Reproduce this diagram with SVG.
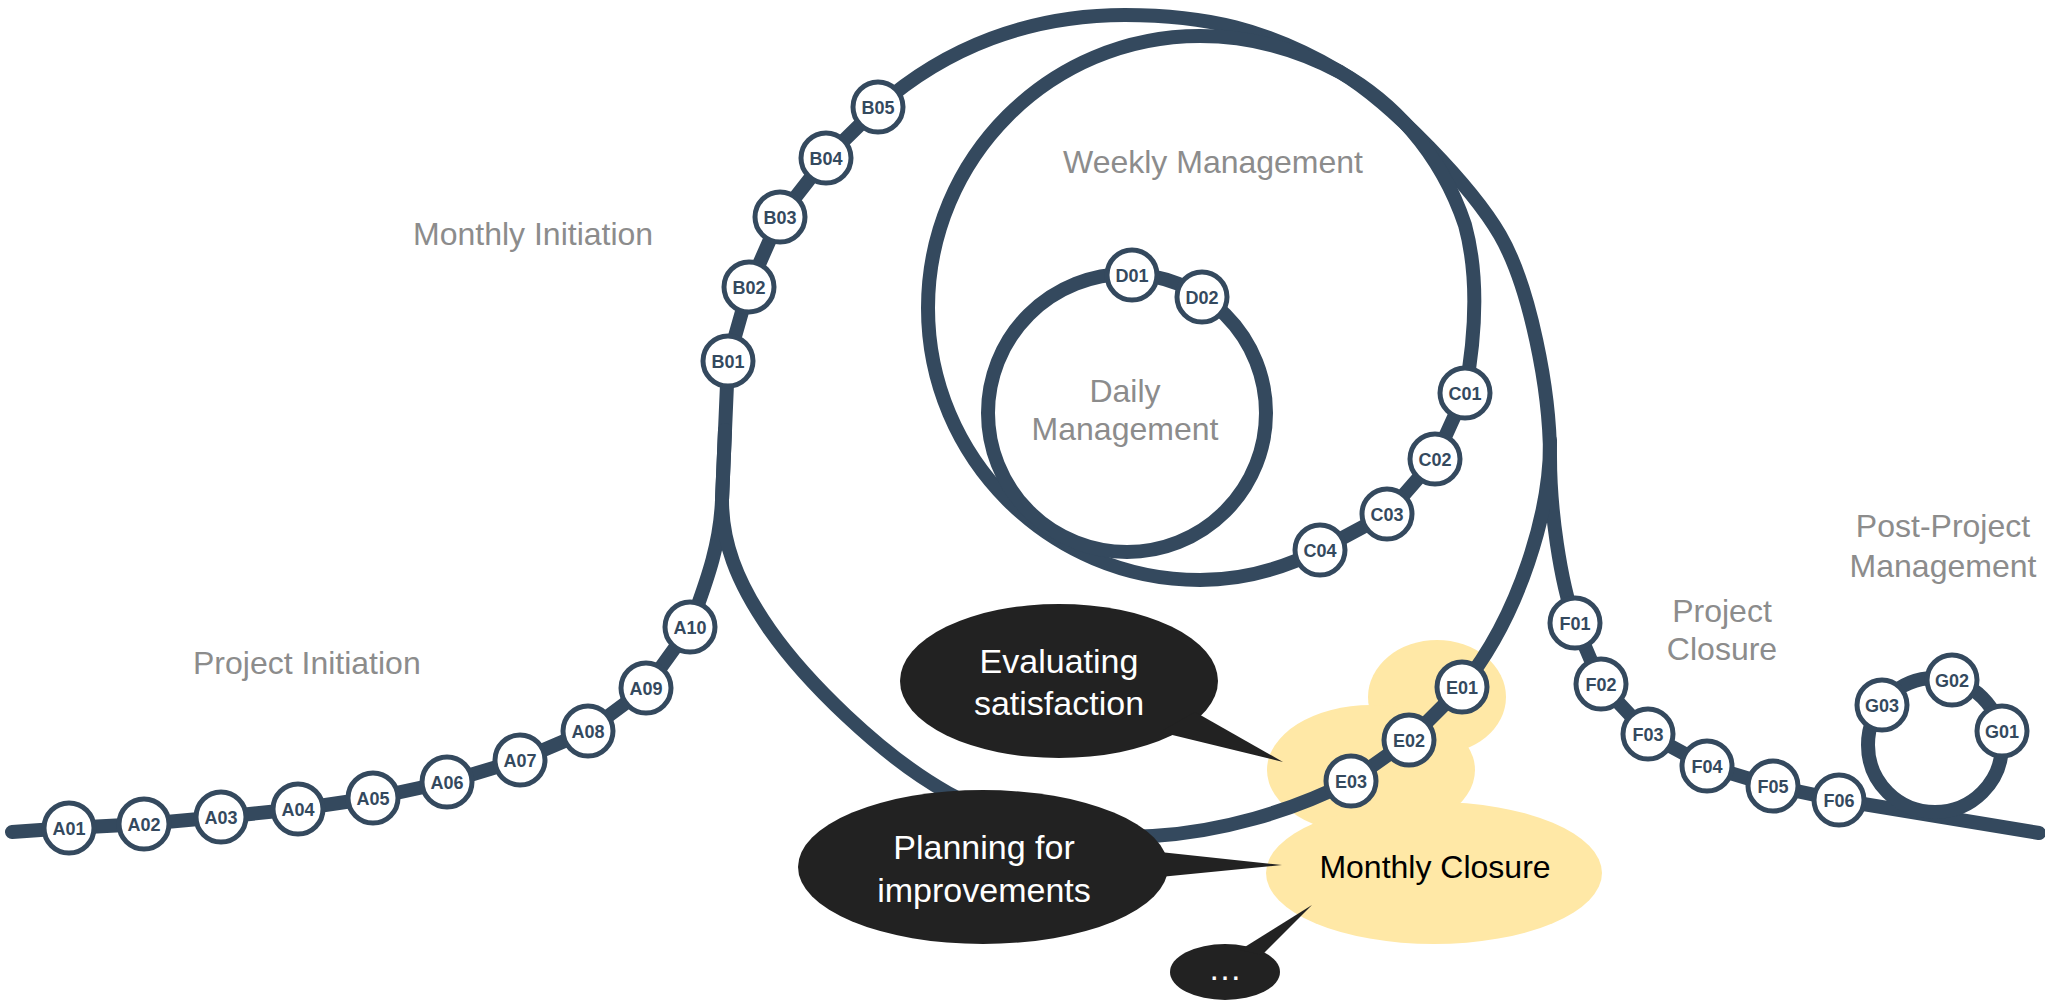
<svg xmlns="http://www.w3.org/2000/svg" width="2045" height="1001" viewBox="0 0 2045 1001">
<style>
.line{fill:none;stroke:#34495e;stroke-width:14;stroke-linecap:round;stroke-linejoin:round}
.st circle{fill:#fff;stroke:#34495e;stroke-width:5}
.st text{font-family:'Liberation Sans',Arial,sans-serif;font-weight:bold;font-size:18px;fill:#34495e;text-anchor:middle}
.lbl{font-family:'Liberation Sans',Arial,sans-serif;font-size:32px;fill:#8c8c8c}
.mid{text-anchor:middle}
.bub{fill:#222}
.bubt{font-family:'Liberation Sans',Arial,sans-serif;font-size:34px;fill:#fff;text-anchor:middle}
.cloud{fill:#ffe8a6}
</style>
<rect width="2045" height="1001" fill="#fff"/>
<g id="monthly-closure">
<ellipse class="cloud" cx="1437" cy="697" rx="69" ry="57"/>
<ellipse class="cloud" cx="1371" cy="770" rx="104" ry="65"/>
<ellipse class="cloud" cx="1434" cy="873" rx="168" ry="71"/>
<text x="1435" y="878" font-family="'Liberation Sans',Arial,sans-serif" font-size="32" fill="#000" text-anchor="middle">Monthly Closure</text>
</g>
<g id="connectors">
<path class="line" d="M12,832 L69,828 L144,824 L221,817 L298,809 L373,798 L447,782 L520,760 L588,731 L646,688 L690,627 C703,590 720,550 722,500 L728,361 L749,287 L780,217 L826,158 L878,107 C946,47 1030,15 1125,15 C1205,15 1267,29 1340,72 C1392,103 1472,187 1500,235 C1530,287 1550,390 1550,457 C1550,510 1560,580 1575,623 L1601,684 L1648,734 L1707,766 L1773,786 L1839,800 L2039,833"/>
<path class="line" d="M1550,440 C1551,510 1520,615 1462,687 L1409,740 L1351,781 C1290,812 1220,832 1153,836 C1080,840 1010,828 948,793 C880,755 805,680 770,630 C735,580 722,540 722,500 L725,430"/>
<path class="line" d="M1340,72 C1297,49 1249,36 1200,36 C1050,36 928,158 928,308 C928,458 1050,580 1200,580 C1242,580 1282,569 1320,550 L1387,514 L1435,459 L1465,393 C1474,345 1480,280 1465,225 C1440,150 1390,100 1340,72"/>
<circle class="line" cx="1127" cy="413" r="139"/>
<circle class="line" cx="1935" cy="745" r="67"/>
</g>
<g id="labels">
<text class="lbl" x="413" y="245">Monthly Initiation</text>
<text class="lbl" x="193" y="674">Project Initiation</text>
<text class="lbl" x="1063" y="173">Weekly Management</text>
<text class="lbl mid" x="1125" y="402">Daily</text>
<text class="lbl mid" x="1125" y="440">Management</text>
<text class="lbl mid" x="1722" y="622">Project</text>
<text class="lbl mid" x="1722" y="660">Closure</text>
<text class="lbl mid" x="1943" y="537">Post-Project</text>
<text class="lbl mid" x="1943" y="577">Management</text>
</g>
<g id="A01" class="st"><circle cx="69" cy="828" r="25"/><text x="69" y="834.5">A01</text></g>
<g id="A02" class="st"><circle cx="144" cy="824" r="25"/><text x="144" y="830.5">A02</text></g>
<g id="A03" class="st"><circle cx="221" cy="817" r="25"/><text x="221" y="823.5">A03</text></g>
<g id="A04" class="st"><circle cx="298" cy="809" r="25"/><text x="298" y="815.5">A04</text></g>
<g id="A05" class="st"><circle cx="373" cy="798" r="25"/><text x="373" y="804.5">A05</text></g>
<g id="A06" class="st"><circle cx="447" cy="782" r="25"/><text x="447" y="788.5">A06</text></g>
<g id="A07" class="st"><circle cx="520" cy="760" r="25"/><text x="520" y="766.5">A07</text></g>
<g id="A08" class="st"><circle cx="588" cy="731" r="25"/><text x="588" y="737.5">A08</text></g>
<g id="A09" class="st"><circle cx="646" cy="688" r="25"/><text x="646" y="694.5">A09</text></g>
<g id="A10" class="st"><circle cx="690" cy="627" r="25"/><text x="690" y="633.5">A10</text></g>
<g id="B01" class="st"><circle cx="728" cy="361" r="25"/><text x="728" y="367.5">B01</text></g>
<g id="B02" class="st"><circle cx="749" cy="287" r="25"/><text x="749" y="293.5">B02</text></g>
<g id="B03" class="st"><circle cx="780" cy="217" r="25"/><text x="780" y="223.5">B03</text></g>
<g id="B04" class="st"><circle cx="826" cy="158" r="25"/><text x="826" y="164.5">B04</text></g>
<g id="B05" class="st"><circle cx="878" cy="107" r="25"/><text x="878" y="113.5">B05</text></g>
<g id="C01" class="st"><circle cx="1465" cy="393" r="25"/><text x="1465" y="399.5">C01</text></g>
<g id="C02" class="st"><circle cx="1435" cy="459" r="25"/><text x="1435" y="465.5">C02</text></g>
<g id="C03" class="st"><circle cx="1387" cy="514" r="25"/><text x="1387" y="520.5">C03</text></g>
<g id="C04" class="st"><circle cx="1320" cy="550" r="25"/><text x="1320" y="556.5">C04</text></g>
<g id="D01" class="st"><circle cx="1132" cy="275" r="25"/><text x="1132" y="281.5">D01</text></g>
<g id="D02" class="st"><circle cx="1202" cy="297" r="25"/><text x="1202" y="303.5">D02</text></g>
<g id="E01" class="st"><circle cx="1462" cy="687" r="25"/><text x="1462" y="693.5">E01</text></g>
<g id="E02" class="st"><circle cx="1409" cy="740" r="25"/><text x="1409" y="746.5">E02</text></g>
<g id="E03" class="st"><circle cx="1351" cy="781" r="25"/><text x="1351" y="787.5">E03</text></g>
<g id="F01" class="st"><circle cx="1575" cy="623" r="25"/><text x="1575" y="629.5">F01</text></g>
<g id="F02" class="st"><circle cx="1601" cy="684" r="25"/><text x="1601" y="690.5">F02</text></g>
<g id="F03" class="st"><circle cx="1648" cy="734" r="25"/><text x="1648" y="740.5">F03</text></g>
<g id="F04" class="st"><circle cx="1707" cy="766" r="25"/><text x="1707" y="772.5">F04</text></g>
<g id="F05" class="st"><circle cx="1773" cy="786" r="25"/><text x="1773" y="792.5">F05</text></g>
<g id="F06" class="st"><circle cx="1839" cy="800" r="25"/><text x="1839" y="806.5">F06</text></g>
<g id="G01" class="st"><circle cx="2002" cy="731" r="25"/><text x="2002" y="737.5">G01</text></g>
<g id="G02" class="st"><circle cx="1952" cy="680" r="25"/><text x="1952" y="686.5">G02</text></g>
<g id="G03" class="st"><circle cx="1882" cy="705" r="25"/><text x="1882" y="711.5">G03</text></g>
<g id="bubble-evaluating">
<ellipse class="bub" cx="1059" cy="681" rx="159" ry="77"/>
<polygon class="bub" points="1195,712 1283,762 1160,732"/>
<text class="bubt" x="1059" y="673">Evaluating</text>
<text class="bubt" x="1059" y="715">satisfaction</text>
</g>
<g id="bubble-planning">
<ellipse class="bub" cx="983" cy="867" rx="185" ry="77"/>
<polygon class="bub" points="1160,852 1282,865 1160,877"/>
<text class="bubt" x="984" y="859">Planning for</text>
<text class="bubt" x="984" y="902">improvements</text>
</g>
<g id="bubble-more">
<ellipse class="bub" cx="1225" cy="972" rx="55" ry="28"/>
<polygon class="bub" points="1240,950 1312,905 1262,955"/>
<text class="bubt" x="1225" y="980">…</text>
</g>
</svg>
